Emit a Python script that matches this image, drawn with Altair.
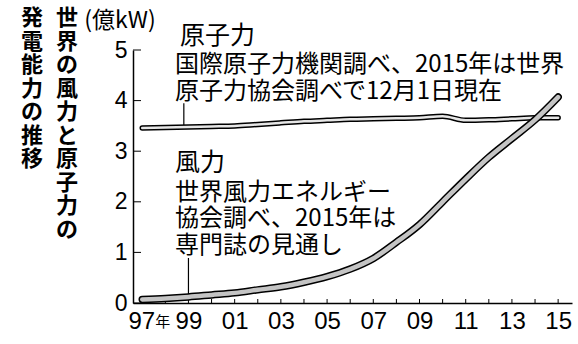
import altair as alt
import pandas as pd

years = list(range(1997, 2016))
wind = [0.07, 0.09, 0.12, 0.16, 0.20, 0.26, 0.32, 0.41, 0.52, 0.67, 0.88,
        1.20, 1.55, 2.00, 2.45, 2.88, 3.25, 3.62, 4.07]
nuclear = [3.46, 3.47, 3.48, 3.49, 3.50, 3.53, 3.56, 3.59, 3.61, 3.63, 3.64,
           3.65, 3.66, 3.69, 3.61, 3.62, 3.64, 3.66, 3.66]
y_ticks = [0, 1, 2, 3, 4, 5]
x_label_years = [1997, 1999, 2001, 2003, 2005, 2007, 2009, 2011, 2013, 2015]
first_year = [1997]
year_suffix = "年"
leader_years = [1998.8, 1999.0]
leader_bottom = [3.48, 0.12]
leader_top = [3.95, 0.89]

title_right = list("世界の風力と原子力の")
title_left = list("発電能力の推移")
unit_label = "(億kW)"
nuc_title = "原子力"
nuc_lines = ["国際原子力機関調べ、2015年は世界", "原子力協会調べで12月1日現在"]
wind_title = "風力"
wind_lines = ["世界風力エネルギー", "協会調べ、2015年は", "専門誌の見通し"]

df_wind = pd.DataFrame({"year": years, "value": wind})
df_nuc = pd.DataFrame({"year": years, "value": nuclear})
df_xt = pd.DataFrame({"year": years})
df_yt = pd.DataFrame({"value": y_ticks})
df_first = pd.DataFrame({"year": first_year})
df_lead = pd.DataFrame({"year": leader_years, "value": leader_bottom, "value2": leader_top})
one = pd.DataFrame({"k": [0]})

W, H = 439, 253
NUM_FONT = "Liberation Sans, Arial, sans-serif"
JP = "Noto Sans CJK JP"

x_enc = alt.X("year:Q",
              scale=alt.Scale(domain=[1996.6, 2015.6], nice=False, zero=False),
              axis=alt.Axis(title=None, values=x_label_years, grid=False, tickSize=0,
                            labelExpr="substring(toString(datum.value), 2)",
                            labelFont=NUM_FONT, labelFontSize=24, labelColor="black",
                            labelOverlap=False, labelFlush=False,
                            labelPadding=6, domainColor="black", domainWidth=1.5,
                            labelOffset=alt.ExprRef(expr="datum.value == 1997 ? -1 : 0")))
y_enc = alt.Y("value:Q",
              scale=alt.Scale(domain=[0, 5], nice=False, zero=True),
              axis=alt.Axis(title=None, values=y_ticks, grid=False, tickSize=0,
                            labelFont=NUM_FONT, labelFontSize=23, labelColor="black",
                            labelPadding=6, domainColor="black", domainWidth=1.5))

def line(df, color, width):
    return alt.Chart(df).mark_line(color=color, strokeWidth=width, interpolate="monotone",
                                   strokeCap="round").encode(x=x_enc, y=y_enc)

layers = [
    alt.Chart(df_xt).mark_rule(color="black", strokeWidth=1).encode(
        x=x_enc, y=alt.value(H), y2=alt.value(H - 4)),
    alt.Chart(df_yt).mark_rule(color="black", strokeWidth=1).encode(
        y=y_enc, x=alt.value(0), x2=alt.value(8)),
    alt.Chart(df_lead).mark_rule(color="black", strokeWidth=1.2).encode(
        x=x_enc, y=y_enc, y2="value2:Q"),
    line(df_nuc, "black", 5.5),
    line(df_nuc, "#e6e6e6", 2.5),
    line(df_wind, "black", 7.5),
    line(df_wind, "#c4c4c4", 4.5),
    alt.Chart(df_first).mark_text(text=year_suffix, font=JP, fontSize=15, align="left",
                                  baseline="alphabetic", dx=13, color="black").encode(
        x=x_enc, y=alt.value(H + 24)),
]

def txt(text, x, y, size, weight="normal", align="left", baseline="middle", font=JP, lh=None):
    kw = dict(text=text, fontSize=size, font=font, fontWeight=weight, align=align,
              baseline=baseline, color="black")
    if lh is not None:
        kw["lineHeight"] = lh
    return alt.Chart(one).mark_text(**kw).encode(x=alt.value(x), y=alt.value(y))

layers += [
    txt(title_right, -66, -42, 22, weight="bold", align="center", baseline="top", lh=23.5),
    txt(title_left, -101, -42, 22, weight="bold", align="center", baseline="top", lh=23.5),
    txt(unit_label, -13, -29, 23, align="center"),
    txt(nuc_title, 47, -14, 25),
    txt(nuc_lines[0], 42, 15, 24),
    txt(nuc_lines[1], 42, 42, 24),
    txt(wind_title, 42, 113, 25),
    txt(wind_lines[0], 42, 143, 24),
    txt(wind_lines[1], 42, 169, 24),
    txt(wind_lines[2], 42, 196, 24),
]

chart = alt.layer(*layers).properties(
    width=W, height=H,
    autosize=alt.AutoSizeParams(type="none"),
    padding={"left": 133, "top": 50, "right": 6, "bottom": 41},
    background="white",
).configure_view(stroke=None)

chart.save("out.html", embed_options={"renderer": "svg", "actions": False})
